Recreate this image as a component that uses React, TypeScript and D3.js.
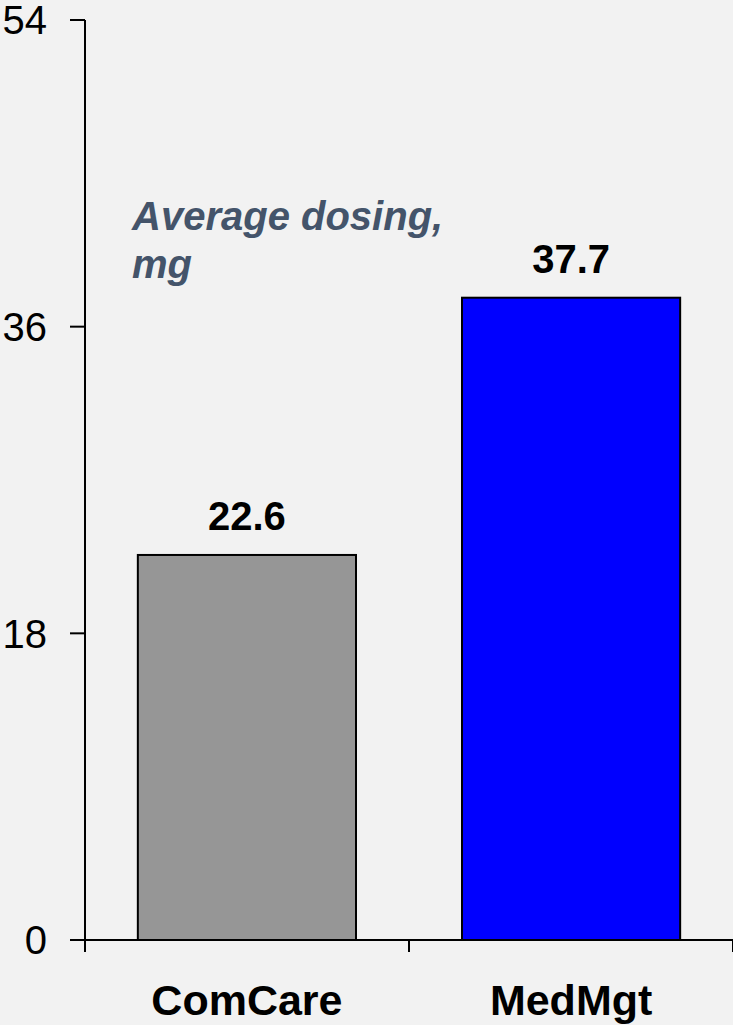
import React from "react";
import * as d3 from "d3";

const categories = ["ComCare", "MedMgt"];
const values = [22.6, 37.7];
const valueLabels = ["22.6", "37.7"];
const colors = ["#969696", "#0000ff"];
const yTicks = [0, 18, 36, 54];
const annotation = ["Average dosing,", "mg"];

const W = 733;
const H = 1025;
const FONT = "Liberation Sans, Arial, Helvetica, sans-serif";

export default function App() {
  const x0 = 85, x1 = 733, yTop = 20, yBot = 940;
  const x = d3.scaleBand().domain(categories).range([x0, x1]).paddingInner(0.327).paddingOuter(0.163);
  const y = d3.scaleLinear().domain([0, 54]).range([yBot, yTop]);
  const step = (x1 - x0) / categories.length;
  const boundaries = d3.range(categories.length + 1).map((i) => x0 + i * step);

  return (
    <svg width={W} height={H} style={{ position: "absolute", left: 0, top: 0, background: "#f2f2f2" }}>
      <rect x={0} y={0} width={W} height={H} fill="#f2f2f2" />
      {categories.map((c, i) => (
        <g key={c}>
          <rect
            x={x(c)!}
            y={y(values[i])}
            width={x.bandwidth()}
            height={yBot - y(values[i])}
            fill={colors[i]}
            stroke="#000"
            strokeWidth={2}
          />
          <text
            x={x(c)! + x.bandwidth() / 2}
            y={y(values[i]) - 25}
            textAnchor="middle"
            fontFamily={FONT}
            fontWeight="bold"
            fontSize={40}
            fill="#000"
          >
            {valueLabels[i]}
          </text>
          <text
            x={x(c)! + x.bandwidth() / 2}
            y={1015}
            textAnchor="middle"
            fontFamily={FONT}
            fontWeight="bold"
            fontSize={43}
            fill="#000"
          >
            {c}
          </text>
        </g>
      ))}
      <line x1={x0} x2={x0} y1={yTop} y2={yBot} stroke="#000" strokeWidth={2} />
      <line x1={70} x2={x1} y1={yBot} y2={yBot} stroke="#000" strokeWidth={2} />
      {yTicks.map((t) => (
        <g key={t}>
          <line x1={70} x2={x0} y1={y(t)} y2={y(t)} stroke="#000" strokeWidth={2} />
          <text
            x={47}
            y={y(t)}
            dy="0.36em"
            textAnchor="end"
            fontFamily={FONT}
            fontSize={40}
            fill="#000"
          >
            {t}
          </text>
        </g>
      ))}
      {boundaries.map((b, i) => (
        <line key={i} x1={b} x2={b} y1={yBot} y2={yBot + 12} stroke="#000" strokeWidth={2} />
      ))}
      {annotation.map((a, i) => (
        <text
          key={i}
          x={132}
          y={230 + i * 48}
          fontFamily={FONT}
          fontWeight="bold"
          fontStyle="italic"
          fontSize={40}
          fill="#44546a"
        >
          {a}
        </text>
      ))}
    </svg>
  );
}
